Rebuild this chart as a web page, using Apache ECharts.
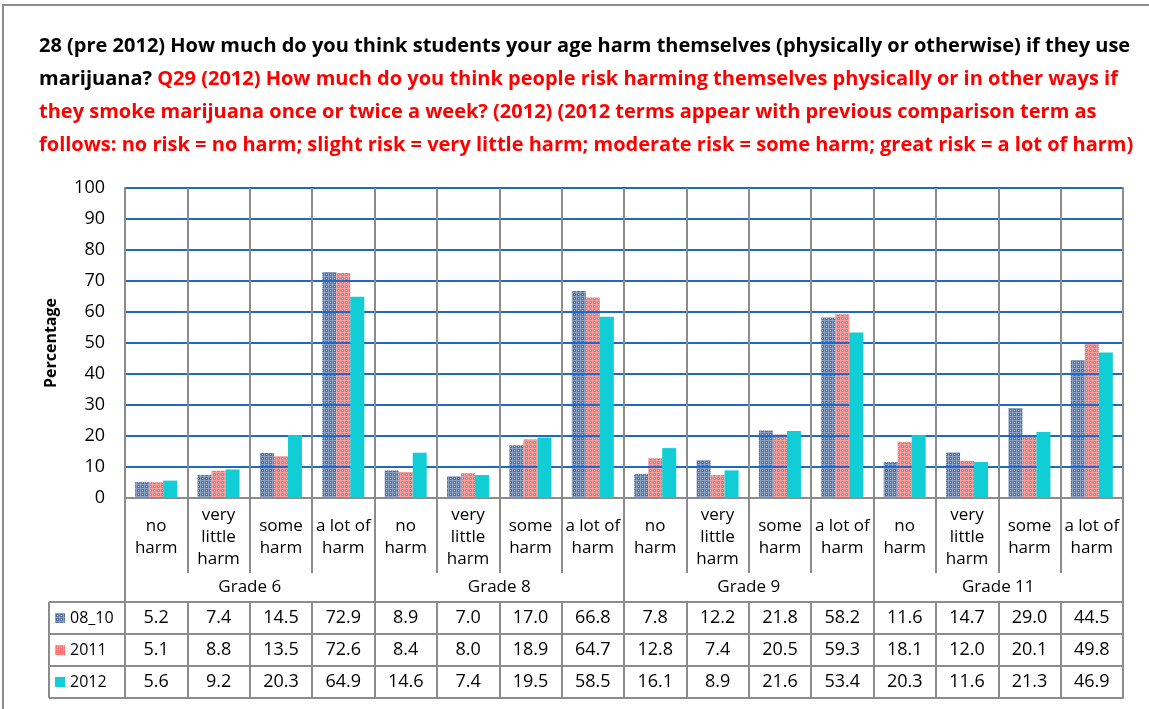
<!DOCTYPE html>
<html><head><meta charset="utf-8">
<script src="https://cdn.jsdelivr.net/npm/echarts@6/dist/echarts.min.js"></script>
<style>html,body{margin:0;padding:0;background:#fff}#c{width:1149px;height:709px}</style>
</head><body><div id="c"></div>
<script>
// ---- data ----
const grades = ['Grade 6', 'Grade 8', 'Grade 9', 'Grade 11'];
const harmLevels = ['no\nharm', 'very\nlittle\nharm', 'some\nharm', 'a lot of\nharm'];
const seriesNames = ['08_10', '2011', '2012'];
const v0810 = [5.2, 7.4, 14.5, 72.9, 8.9, 7.0, 17.0, 66.8, 7.8, 12.2, 21.8, 58.2, 11.6, 14.7, 29.0, 44.5];
const v2011 = [5.1, 8.8, 13.5, 72.6, 8.4, 8.0, 18.9, 64.7, 12.8, 7.4, 20.5, 59.3, 18.1, 12.0, 20.1, 49.8];
const v2012 = [5.6, 9.2, 20.3, 64.9, 14.6, 7.4, 19.5, 58.5, 16.1, 8.9, 21.6, 53.4, 20.3, 11.6, 21.3, 46.9];
const yMin = 0, yMax = 100, yInterval = 10;
const titleBlack1 = '28 (pre 2012) How much do you think students your age harm themselves (physically or otherwise) if they use';
const titleBlack2 = 'marijuana? ';
const titleRed2 = 'Q29 (2012) How much do you think people risk harming themselves physically or in other ways if';
const titleRed3 = 'they smoke marijuana once or twice a week? (2012) (2012 terms appear with previous comparison term as';
const titleRed4 = 'follows: no risk = no harm; slight risk = very little harm; moderate risk = some harm; great risk = a lot of harm)';

// ---- derived ----
const cats = [];
grades.forEach(g => harmLevels.forEach(h => cats.push(g + '|' + h)));
const rows = [v0810, v2011, v2012];
const idx = cats.map((c, i) => String(i));

const F = '"Open Sans", "Noto Sans", sans-serif';
const GRAY = '#8c8c8c';
const BLUE = '#1f68c6';
const RED_T = '#ff0000';

function pattern(base, line, dot) {
  const c = document.createElement('canvas');
  c.width = 4; c.height = 4;
  const x = c.getContext('2d');
  x.fillStyle = base; x.fillRect(0, 0, 4, 4);
  x.fillStyle = line; x.fillRect(0, 0, 4, 1); x.fillRect(0, 0, 1, 4);
  x.fillStyle = dot; x.fillRect(2, 2, 1, 1);
  return c;
}
const patBlue = pattern('#52709f', '#8aa1c8', '#d5deee');
const patRed = pattern('#ff6b6b', '#ff9a9a', '#ffdcdc');

// title font fit
const mctx = document.createElement('canvas').getContext('2d');
function tw(s) { mctx.font = 'bold ' + s + 'px ' + F; return mctx.measureText(titleBlack1).width; }
const titleFs = Math.round(19 * 1089 / tw(19) * 10) / 10;

const G = { left: 125, right: 26, top: 188, bottom: 211 };
const plotBottom = 709 - G.bottom;
const rowH = 32, tableOffset = 104, tableLeft = 49;

const chart = echarts.init(document.getElementById('c'), null, { renderer: 'canvas' });

const rowAxes = rows.map((r, k) => ({
  type: 'category', data: idx, position: 'bottom', offset: tableOffset + rowH * k, z: 3,
  axisLine: { show: true, onZero: false, lineStyle: { color: GRAY, width: 2 } },
  axisTick: { show: true, interval: 0, length: rowH, lineStyle: { color: GRAY, width: 2 } },
  axisLabel: { interval: 0, formatter: (v, i) => r[i].toFixed(1), margin: rowH / 2, verticalAlign: 'middle',
    fontSize: 18, color: '#000', fontFamily: F },
  splitLine: { show: false }
}));

const option = {
  animation: false,
  backgroundColor: '#fff',
  title: {
    left: 34, top: 25,
    text: '{k|' + titleBlack1 + '}\n{k|' + titleBlack2 + '}{r|' + titleRed2 + '}\n{r|' + titleRed3 + '}\n{r|' + titleRed4 + '}',
    textStyle: {
      fontFamily: F, fontWeight: 'bold', fontSize: titleFs, lineHeight: 33,
      rich: {
        k: { color: '#000', fontFamily: F, fontWeight: 'bold', fontSize: titleFs, lineHeight: 33 },
        r: { color: RED_T, fontFamily: F, fontWeight: 'bold', fontSize: titleFs, lineHeight: 33 }
      }
    }
  },
  legend: {
    data: seriesNames, orient: 'vertical', left: 55, top: plotBottom + tableOffset + 8, padding: 0,
    itemWidth: 10, itemHeight: 10, itemGap: 16, icon: 'rect', selectedMode: false,
    textStyle: { fontSize: 16, lineHeight: 16, color: '#000', fontFamily: F }
  },
  grid: G,
  xAxis: [
    {
      type: 'category', data: cats, position: 'bottom', z: 4,
      axisLine: { show: true, onZero: false, lineStyle: { color: GRAY, width: 2 } },
      axisTick: { show: true, interval: 0, length: 75, lineStyle: { color: GRAY, width: 2 } },
      splitLine: { show: true, interval: 0, lineStyle: { color: GRAY, width: 2 } },
      axisLabel: { interval: 0, formatter: (v, i) => harmLevels[i % 4], margin: 39, verticalAlign: 'middle',
        lineHeight: 22, fontSize: 17, color: '#000', fontFamily: F }
    },
    {
      type: 'category', data: grades, position: 'bottom', z: 3,
      axisLine: { show: false, onZero: false },
      axisTick: { show: true, interval: 0, length: tableOffset, lineStyle: { color: GRAY, width: 2 } },
      axisLabel: { interval: 0, margin: 89, verticalAlign: 'middle', fontSize: 17, color: '#000', fontFamily: F },
      splitLine: { show: false }
    },
    ...rowAxes,
    {
      type: 'category', data: idx, position: 'bottom', offset: tableOffset + rowH * 3, z: 3,
      axisLine: { show: true, onZero: false, lineStyle: { color: GRAY, width: 2 } },
      axisTick: { show: false }, axisLabel: { show: false }, splitLine: { show: false }
    }
  ],
  yAxis: [
    {
      type: 'value', min: yMin, max: yMax, interval: yInterval, z: 3,
      axisLine: { show: true, lineStyle: { color: GRAY, width: 2 } },
      axisTick: { show: false },
      splitLine: { show: true, lineStyle: { color: BLUE, width: 2 } },
      axisLabel: { fontSize: 18, color: '#000', margin: 20, fontFamily: F },
      name: 'Percentage', nameLocation: 'middle', nameRotate: 90, nameGap: 66,
      nameTextStyle: { fontWeight: 'bold', fontSize: 16, color: '#000', fontFamily: F }
    },
    {
      type: 'value', min: yMin, max: yMax, interval: yInterval, position: 'right', z: 3,
      axisLine: { show: true, lineStyle: { color: GRAY, width: 2 } },
      axisTick: { show: false }, axisLabel: { show: false }, splitLine: { show: false }
    }
  ],
  series: [
    { type: 'bar', name: seriesNames[0], data: v0810, barWidth: 14, barGap: '0%', z: 2,
      itemStyle: { color: { image: patBlue, repeat: 'repeat' } } },
    { type: 'bar', name: seriesNames[1], data: v2011, barWidth: 14, barGap: '0%', z: 2,
      itemStyle: { color: { image: patRed, repeat: 'repeat' } } },
    { type: 'bar', name: seriesNames[2], data: v2012, barWidth: 14, barGap: '0%', z: 5,
      itemStyle: { color: '#10cdd6' } }
  ],
  graphic: (function () {
    const els = [
      { type: 'rect', silent: true, z: -10, shape: { x: 3, y: 5, width: 1170, height: 730 },
        style: { fill: 'none', stroke: GRAY, lineWidth: 2 } }
    ];
    const t0 = plotBottom + tableOffset, t1 = t0 + rowH * 3;
    els.push({ type: 'line', silent: true, shape: { x1: tableLeft, y1: t0, x2: tableLeft, y2: t1 },
      style: { stroke: GRAY, lineWidth: 2 } });
    for (let k = 0; k <= 3; k++) {
      els.push({ type: 'line', silent: true, shape: { x1: tableLeft, y1: t0 + rowH * k, x2: G.left, y2: t0 + rowH * k },
        style: { stroke: GRAY, lineWidth: 2 } });
    }
    return els;
  })()
};
chart.setOption(option);
</script></body></html>
